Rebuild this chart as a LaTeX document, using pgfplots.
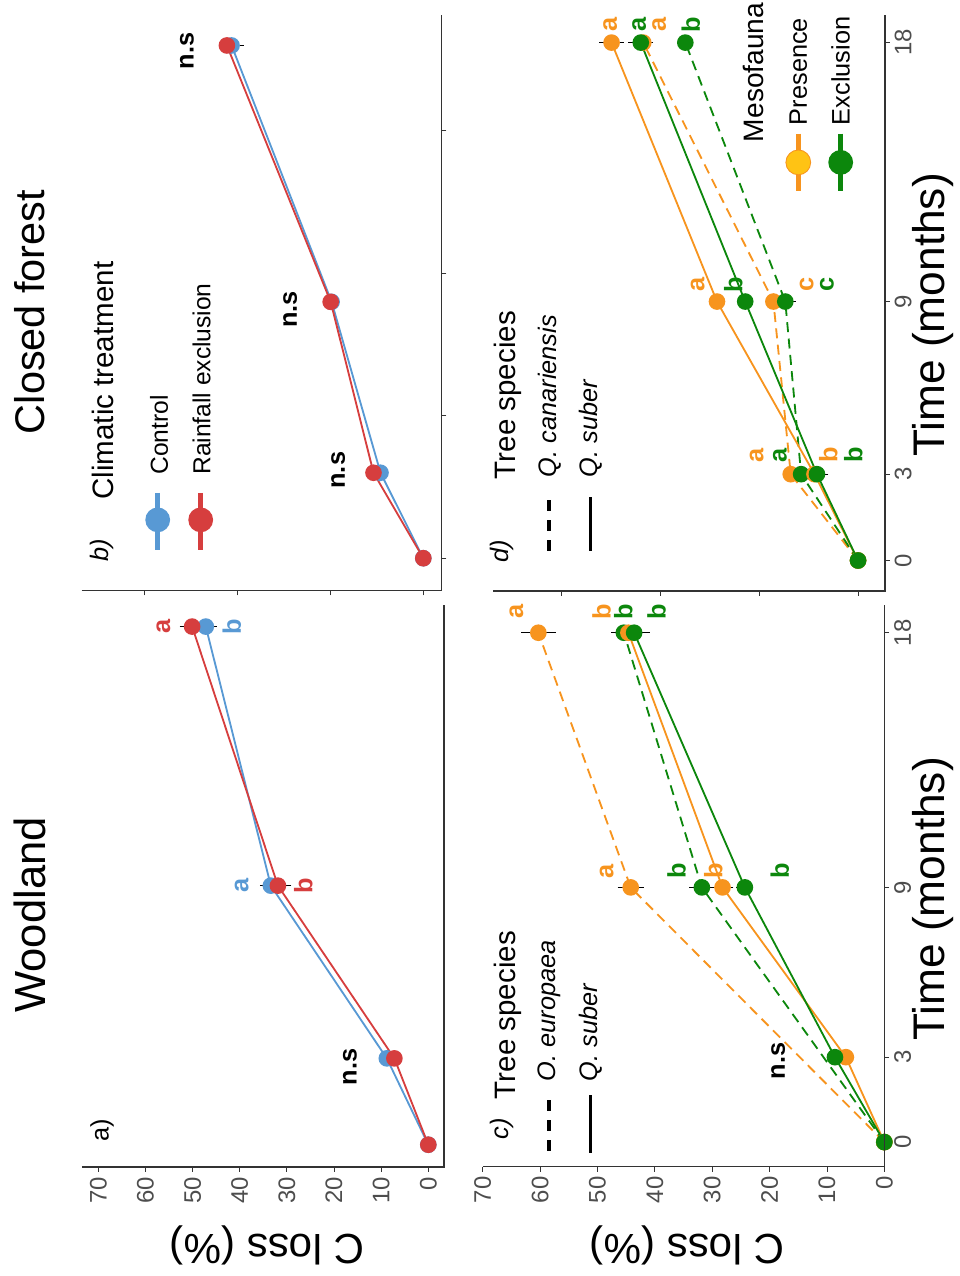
\documentclass[border=0pt]{standalone}
\usepackage{fontspec}
\setmainfont{Liberation Sans}
\usepackage{pgfplots}
\pgfplotsset{compat=1.18}
\usepackage{pgfplotstable}

\definecolor{cblue}{RGB}{88,153,212}
\definecolor{cred}{RGB}{214,62,62}
\definecolor{corange}{RGB}{247,148,30}
\definecolor{cgreen}{RGB}{12,135,12}
\definecolor{cyellow}{RGB}{255,195,20}
\definecolor{ticktext}{RGB}{77,77,77}
\definecolor{axiscol}{RGB}{51,51,51}

\newcommand\fs[1]{\fontsize{#1}{#1}\selectfont}

% columns: time (months), C loss (%), standard error
% a) Woodland, climatic treatment
\pgfplotstableread{
t c e
0 0 0
3 8.8 0.5
9 33.4 1.5
18 47.2 1.5
}\aControl
\pgfplotstableread{
t c e
0 0 0
3 7.2 0.5
9 31.9 2.0
18 50.1 1.8
}\aRain
% b) Closed forest, climatic treatment
\pgfplotstableread{
t c e
0 0 0
3 9.2 0.6
9 19.7 0.8
18 41.2 1.8
}\bControl
\pgfplotstableread{
t c e
0 0 0
3 10.7 0.6
9 19.9 0.7
18 42.2 0.8
}\bRain
% c) Woodland, mesofauna x tree species
\pgfplotstableread{
t c e
0 0 0
9 44.2 1.6
18 60.3 2.3
}\cPresOe
\pgfplotstableread{
t c e
0 0 0
9 31.8 1.5
18 45.4 1.5
}\cExclOe
\pgfplotstableread{
t c e
0 0 0
3 6.7 0.8
9 28.2 1.2
18 44.6 1.0
}\cPresQs
\pgfplotstableread{
t c e
0 0 0
3 8.6 0.5
9 24.3 0.8
18 43.6 2.0
}\cExclQs
% d) Closed forest, mesofauna x tree species
\pgfplotstableread{
t c e
0 0 0
3 13.6 0.5
9 17.1 0.8
18 43.4 1.0
}\dPresQc
\pgfplotstableread{
t c e
0 0 0
3 11.5 0.5
9 14.7 1.3
18 34.9 0.8
}\dExclQc
\pgfplotstableread{
t c e
0 0 0
3 8.8 0.5
9 28.5 0.8
18 49.8 1.7
}\dPresQs
\pgfplotstableread{
t c e
0 0 0
3 8.3 1.5
9 22.8 0.8
18 43.9 1.7
}\dExclQs

\tikzset{
  lab/.style={rotate=90, font=\fs{18}\bfseries, inner sep=0pt},
  dashedline/.style={dash pattern=on 2.5mm off 1.6mm},
}
\pgfplotsset{
  panel/.style={
    scale only axis, anchor=south west, clip=false,
    x dir=reverse,
    axis line style={draw=none},
    tick align=outside,
    major tick length=1.2mm,
    every tick/.style={axiscol, line width=0.6pt},
    xtick pos=left, ytick pos=right,
    xticklabel pos=left, yticklabel pos=right,
    tick label style={font=\fs{17}, text=ticktext},
    xticklabel style={rotate=90, anchor=east},
    yticklabel style={rotate=90, anchor=north},
    /pgf/number format/assume math mode=true,
  },
  series/.style={line width=1.3pt, mark=*, mark size=1.85mm,
    mark options={solid, fill=#1, draw=#1}, color=#1,
    /pgfplots/error bars/x dir=both,
    /pgfplots/error bars/x explicit,
    /pgfplots/error bars/error bar style={solid, black, line width=0.5pt},
    /pgfplots/error bars/error mark options={solid, black, line width=0.5pt, mark size=1mm}},
}

\begin{document}
\begin{tikzpicture}
\path[use as bounding box] (0,0) rectangle (240mm,319mm);

% a) Woodland, climatic treatment
\begin{axis}[panel, at={(20.5mm,27.25mm)}, width=90.5mm, height=140.5mm,
  xmin=-3.33, xmax=73.46, ymin=-0.774, ymax=18.75,
  xtick={0,10,...,70}, ytick=\empty]
\addplot[series=cblue] table[x=c, y=t, x error=e] {\aControl};
\addplot[series=cred] table[x=c, y=t, x error=e] {\aRain};
\node[lab, text=cred] at (axis cs:56.2,18) {a};
\node[lab, text=cblue] at (axis cs:41.7,18) {b};
\node[lab, text=cblue] at (axis cs:39.6,9) {a};
\node[lab, text=cred] at (axis cs:26.5,9) {b};
\node[lab] at (axis cs:16.6,2.7) {n.s};
\end{axis}

% b) Closed forest, climatic treatment
\begin{axis}[panel, at={(20.425mm,171.325mm)}, width=90mm, height=143.925mm,
  xmin=-3.95, xmax=73.4, ymin=-1.14, ymax=19.07,
  xtick={0,20,40,60}, xticklabels={}, ytick={0,5,10,15}, yticklabels={}]
\addplot[series=cblue] table[x=c, y=t, x error=e] {\bControl};
\addplot[series=cred] table[x=c, y=t, x error=e] {\bRain};
\node[lab] at (axis cs:50.8,17.8) {n.s};
\node[lab] at (axis cs:28.6,8.73) {n.s};
\node[lab] at (axis cs:18.3,3.09) {n.s};
\end{axis}

% c) Woodland, mesofauna and tree species
\begin{axis}[panel, at={(120.675mm,27.325mm)}, width=100.4mm, height=140.425mm,
  xmin=0, xmax=70, ymin=-0.87, ymax=18.98,
  xtick={0,10,...,70}, ytick={0,3,9,18}]
\addplot[series=corange, dashedline] table[x=c, y=t, x error=e] {\cPresOe};
\addplot[series=cgreen, dashedline] table[x=c, y=t, x error=e] {\cExclOe};
\addplot[series=corange] table[x=c, y=t, x error=e] {\cPresQs};
\addplot[series=cgreen] table[x=c, y=t, x error=e] {\cExclQs};
\node[lab, text=corange] at (axis cs:64.1,18.74) {a};
\node[lab, text=corange] at (axis cs:49.3,18.74) {b};
\node[lab, text=cgreen] at (axis cs:45.5,18.74) {b};
\node[lab, text=cgreen] at (axis cs:39.7,18.74) {b};
\node[lab, text=corange] at (axis cs:48.4,9.57) {a};
\node[lab, text=cgreen] at (axis cs:36.2,9.57) {b};
\node[lab, text=corange] at (axis cs:29.8,9.57) {b};
\node[lab, text=cgreen] at (axis cs:18.2,9.57) {b};
\node[lab] at (axis cs:18.5,2.87) {n.s};
\end{axis}

% d) Closed forest, mesofauna and tree species
\begin{axis}[panel, at={(123.325mm,171.25mm)}, width=97.925mm, height=144mm,
  xmin=-5.45, xmax=73.7, ymin=-1.06, ymax=18.96,
  xtick={0,20,40,60}, xticklabels={}, ytick={0,3,9,18}]
\addplot[series=corange, dashedline] table[x=c, y=t, x error=e] {\dPresQc};
\addplot[series=cgreen, dashedline] table[x=c, y=t, x error=e] {\dExclQc};
\addplot[series=corange] table[x=c, y=t, x error=e] {\dPresQs};
\addplot[series=cgreen] table[x=c, y=t, x error=e] {\dExclQs};
\node[lab, text=corange] at (axis cs:50.1,18.63) {a};
\node[lab, text=cgreen] at (axis cs:44.2,18.63) {a};
\node[lab, text=corange] at (axis cs:40.2,18.63) {a};
\node[lab, text=cgreen] at (axis cs:33.8,18.63) {b};
\node[lab, text=corange] at (axis cs:32.4,9.6) {a};
\node[lab, text=cgreen] at (axis cs:25.2,9.6) {b};
\node[lab, text=corange] at (axis cs:10.4,9.6) {c};
\node[lab, text=cgreen] at (axis cs:6.3,9.6) {c};
\node[lab, text=corange] at (axis cs:20.5,3.66) {a};
\node[lab, text=cgreen] at (axis cs:15.8,3.66) {a};
\node[lab, text=corange] at (axis cs:6.0,3.66) {b};
\node[lab, text=cgreen] at (axis cs:0.95,3.66) {b};
\end{axis}

% frame lines, titles and keys (units: 0.25 mm, y downwards from the top edge)
\begin{scope}[shift={(0mm,319mm)}, x=0.25mm, y=-0.25mm]
  \draw[axiscol, line width=0.8pt] (82,1167) -- (444,1167) -- (444,605);
  \draw[axiscol, line width=0.8pt] (81.7,590.7) -- (441.7,590.7) -- (441.7,15);
  \draw[axiscol, line width=0.8pt] (482.7,1166.7) -- (884.3,1166.7) -- (884.3,605);
  \draw[axiscol, line width=0.8pt] (493.3,591) -- (885,591) -- (885,15);

  \node[rotate=90, font=\fs{31}] at (30,915) {Woodland};
  \node[rotate=90, font=\fs{29.5}] at (30,312) {Closed forest};
  \node[rotate=180, font=\fs{30}] at (267,1245) {C loss (\%)};
  \node[rotate=180, font=\fs{30}] at (687,1245) {C loss (\%)};
  \node[rotate=90, font=\fs{31.5}] at (933,899) {Time (months)};
  \node[rotate=90, font=\fs{31.5}] at (933,315) {Time (months)};

  \node[rotate=90, font=\fs{18}] at (102,1130) {a)};
  \node[rotate=90, font=\fs{18}\itshape] at (102,550) {b)};
  \node[rotate=90, font=\fs{18}\itshape] at (502,1129) {c)};
  \node[rotate=90, font=\fs{18}\itshape] at (502,551) {d)};

  % climatic treatment key
  \node[rotate=90, anchor=west, font=\fs{21}] at (103.3,504.6) {Climatic treatment};
  \draw[cblue, line width=1.2mm] (157.7,493) -- (157.7,550.5);
  \fill[cblue] (157.7,519.9) circle (3.1mm);
  \node[rotate=90, anchor=west, font=\fs{17.5}] at (159,479.7) {Control};
  \draw[cred, line width=1.2mm] (200.7,493) -- (200.7,550.5);
  \fill[cred] (200.7,519.9) circle (3.1mm);
  \node[rotate=90, anchor=west, font=\fs{17.5}] at (201.7,479.7) {Rainfall exclusion};

  % tree species key, c)
  \node[rotate=90, anchor=west, font=\fs{21}] at (507.5,1104) {Tree species};
  \draw[black, line width=0.9mm, dash pattern=on 2.8mm off 2.2mm] (549,1151) -- (549,1095);
  \draw[black, line width=0.9mm] (590.7,1153) -- (590.7,1095);
  \node[rotate=90, anchor=west, font=\fs{18}\itshape] at (549,1086) {O. europaea};
  \node[rotate=90, anchor=west, font=\fs{18}\itshape] at (591,1086) {Q. suber};

  % tree species key, d)
  \node[rotate=90, anchor=west, font=\fs{21}] at (507.5,484) {Tree species};
  \draw[black, line width=0.9mm, dash pattern=on 2.8mm off 2.2mm] (549,551) -- (549,497);
  \draw[black, line width=0.9mm] (590.7,551) -- (590.7,497);
  \node[rotate=90, anchor=west, font=\fs{18}\itshape] at (550,482) {Q. canariensis};
  \node[rotate=90, anchor=west, font=\fs{18}\itshape] at (591,482) {Q. suber};

  % mesofauna key
  \node[rotate=90, anchor=west, font=\fs{20}] at (753,147) {Mesofauna};
  \draw[corange, line width=1.2mm] (798.3,133.7) -- (798.3,191);
  \filldraw[fill=cyellow, draw=corange, line width=0.6pt] (798.3,162.4) circle (3.1mm);
  \node[rotate=90, anchor=west, font=\fs{18}] at (798.3,130) {Presence};
  \draw[cgreen, line width=1.2mm] (840.7,133.7) -- (840.7,191);
  \fill[cgreen] (840.7,162.4) circle (3.1mm);
  \node[rotate=90, anchor=west, font=\fs{18}] at (840.7,130) {Exclusion};
\end{scope}
\end{tikzpicture}
\end{document}
